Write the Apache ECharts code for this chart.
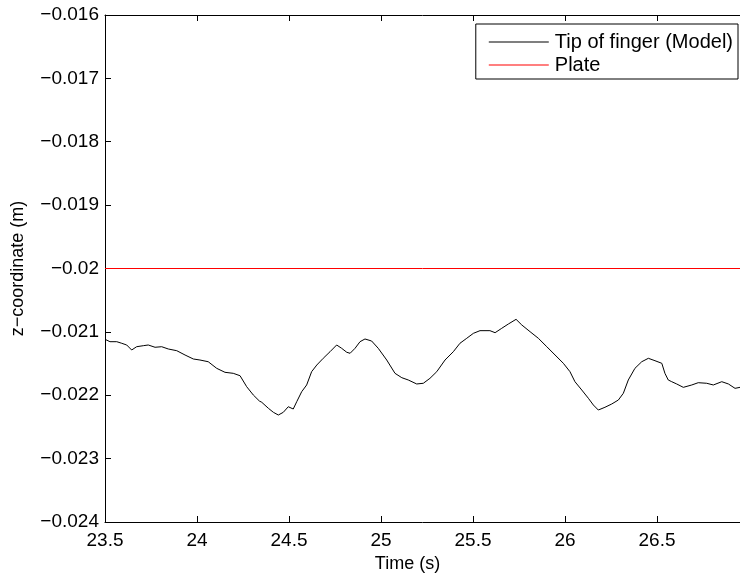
<!DOCTYPE html>
<html>
<head>
<meta charset="utf-8">
<script src="https://cdn.jsdelivr.net/npm/echarts@6/dist/echarts.min.js"></script>
<style>
  html, body { margin: 0; padding: 0; background: #fff; }
  #main { width: 740px; height: 575px; }
</style>
</head>
<body>
<div id="main"></div>
<script>
// time (s)
const time = [23.500, 23.527, 23.564, 23.591, 23.618, 23.645, 23.672, 23.708, 23.735, 23.772,
  23.808, 23.844, 23.890, 23.935, 23.980, 24.016, 24.061, 24.107, 24.152, 24.197,
  24.234, 24.270, 24.306, 24.339, 24.352, 24.388, 24.415, 24.442, 24.469, 24.496,
  24.523, 24.542, 24.569, 24.596, 24.623, 24.651, 24.686, 24.723, 24.759, 24.786,
  24.814, 24.832, 24.859, 24.886, 24.913, 24.949, 24.985, 25.031, 25.076, 25.113,
  25.148, 25.194, 25.230, 25.266, 25.303, 25.348, 25.393, 25.429, 25.466, 25.502,
  25.538, 25.592, 25.620, 25.656, 25.692, 25.734, 25.765, 25.810, 25.855, 25.901,
  25.946, 25.991, 26.027, 26.054, 26.091, 26.127, 26.154, 26.181, 26.217, 26.254,
  26.290, 26.317, 26.344, 26.380, 26.417, 26.453, 26.489, 26.526, 26.543, 26.561,
  26.580, 26.607, 26.643, 26.689, 26.724, 26.770, 26.806, 26.852, 26.888, 26.924, 26.951];

// tip of finger z (m)
const tipZ = [-0.021117, -0.021155, -0.021155, -0.021180, -0.021207, -0.021286, -0.021234, -0.021218, -0.021207, -0.021243,
  -0.021234, -0.021270, -0.021297, -0.021365, -0.021428, -0.021444, -0.021471, -0.021575, -0.021638, -0.021654,
  -0.021692, -0.021865, -0.021996, -0.022091, -0.022111, -0.022206, -0.022269, -0.022312, -0.022269, -0.022181,
  -0.022217, -0.022102, -0.021944, -0.021838, -0.021628, -0.021523, -0.021417, -0.021313, -0.021207, -0.021259,
  -0.021322, -0.021338, -0.021259, -0.021155, -0.021112, -0.021144, -0.021259, -0.021444, -0.021654, -0.021723,
  -0.021759, -0.021822, -0.021811, -0.021733, -0.021628, -0.021444, -0.021313, -0.021180, -0.021101, -0.021023,
  -0.020981, -0.020981, -0.021013, -0.020944, -0.020876, -0.020802, -0.020891, -0.020997, -0.021101, -0.021234,
  -0.021365, -0.021496, -0.021628, -0.021786, -0.021917, -0.022048, -0.022154, -0.022233, -0.022190, -0.022138,
  -0.022075, -0.021969, -0.021759, -0.021575, -0.021471, -0.021417, -0.021455, -0.021496, -0.021654, -0.021759,
  -0.021786, -0.021822, -0.021875, -0.021838, -0.021802, -0.021811, -0.021838, -0.021786, -0.021822, -0.021891, -0.021875];

// plate
const plateTime = [23.5, 26.951];
const plateZ = [-0.02, -0.02];

const xMin = 23.5, xMax = 26.951;
const yMin = -0.024, yMax = -0.016;

const font = 'Liberation Sans, Arial, Helvetica, sans-serif';

function fmtY(v) {
  return String(parseFloat(v.toFixed(4))).replace('-', '\u2212');
}

let myChart = echarts.init(document.getElementById('main'));
let option = {
  animation: false,
  textStyle: { fontFamily: font },
  grid: { left: 105, top: 15, right: 0, bottom: 53, outerBoundsMode: 'none' },
  legend: {
    orient: 'vertical',
    right: 2,
    top: 24,
    data: ['Tip of finger (Model)', 'Plate'],
    icon: 'rect',
    itemWidth: 60,
    itemHeight: 1,
    itemGap: 3,
    padding: [8, 5, 4, 13],
    borderColor: '#000',
    borderWidth: 1,
    backgroundColor: '#fff',
    textStyle: { fontFamily: font, fontSize: 20, color: '#000', padding: [0, 0, 0, 1] }
  },
  xAxis: [
    {
      type: 'value',
      min: xMin, max: xMax, interval: 0.5,
      name: 'Time (s)',
      nameLocation: 'middle',
      nameGap: 32,
      nameTextStyle: { fontFamily: font, fontSize: 18, color: '#000', padding: [0, 30, 0, 0] },
      axisLine: { lineStyle: { color: '#000', width: 1 } },
      axisTick: { inside: true, length: 6, lineStyle: { color: '#000' } },
      axisLabel: { color: '#000', fontSize: 19, fontFamily: font, margin: 9, showMaxLabel: false },
      splitLine: { show: false }
    },
    {
      type: 'value',
      position: 'top',
      min: xMin, max: xMax, interval: 0.5,
      axisLine: { lineStyle: { color: '#000', width: 1 } },
      axisTick: { inside: true, length: 6, lineStyle: { color: '#000' } },
      axisLabel: { show: false },
      splitLine: { show: false }
    }
  ],
  yAxis: {
    type: 'value',
    min: yMin, max: yMax, interval: 0.001,
    name: 'z\u2212coordinate (m)',
    nameLocation: 'middle',
    nameGap: 78,
    nameTextStyle: { fontFamily: font, fontSize: 18, color: '#000' },
    axisLine: { show: true, lineStyle: { color: '#000', width: 1 } },
    axisTick: { show: true, inside: true, length: 6, lineStyle: { color: '#000' } },
    axisLabel: { color: '#000', fontSize: 19, fontFamily: font, margin: 6, formatter: fmtY },
    splitLine: { show: false }
  },
  series: [
    {
      name: 'Tip of finger (Model)',
      type: 'line',
      symbol: 'none',
      data: time.map((t, i) => [t, tipZ[i]]),
      lineStyle: { color: '#000', width: 1 },
      itemStyle: { color: '#000' }
    },
    {
      name: 'Plate',
      type: 'line',
      symbol: 'none',
      data: plateTime.map((t, i) => [t, plateZ[i]]),
      lineStyle: { color: '#ff0000', width: 1 },
      itemStyle: { color: '#ff0000' }
    }
  ]
};
myChart.setOption(option);
</script>
</body>
</html>
